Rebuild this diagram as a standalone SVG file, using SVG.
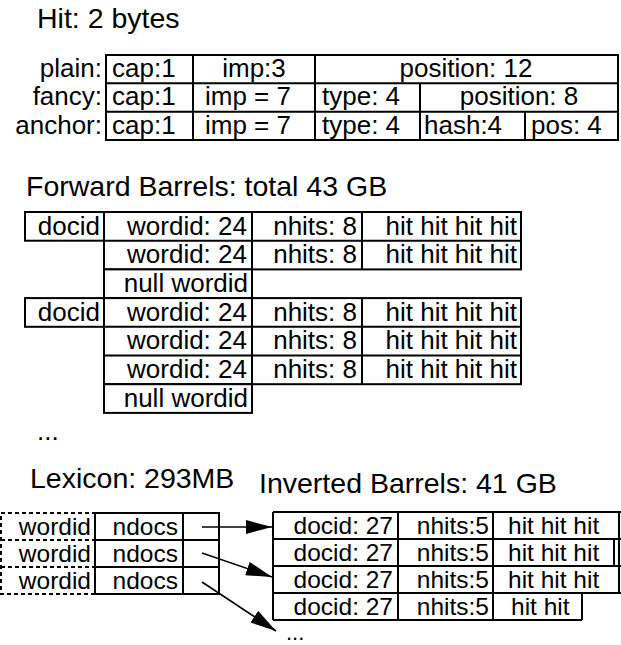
<svg xmlns="http://www.w3.org/2000/svg" width="621" height="645" viewBox="0 0 621 645">
<style>
text{font-family:"Liberation Sans",Arial,Helvetica,sans-serif;font-size:26px;fill:#000}
.title{font-size:28.5px}
.sm{font-size:24.5px}
.dots{font-size:22px}
.r{text-anchor:end}
.m{text-anchor:middle}
.box{fill:#fff;stroke:#000;stroke-width:2}
.ln{stroke:#000;stroke-width:2;fill:none}
.dash{fill:#fff;stroke:#000;stroke-width:2;stroke-dasharray:4 3}
.conn{stroke:#000;stroke-width:1.6;fill:none}
</style>
<defs>
<marker id="ah" markerUnits="userSpaceOnUse" markerWidth="27" markerHeight="14" refX="26" refY="7" orient="auto">
<path d="M0,0 L26,7 L0,14 z" fill="#000"/>
</marker>
</defs>
<rect width="621" height="645" fill="#fff"/>

<g id="hit-title"><text class="title" x="37" y="28">Hit: 2 bytes</text></g>

<g id="hit-table">
<text class="r" x="102" y="77">plain:</text>
<text class="r" x="102" y="105">fancy:</text>
<text class="r" x="102" y="134">anchor:</text>
<rect class="box" x="106" y="55" width="512" height="85"/>
<path class="ln" d="M106,83.3H618M106,111.7H618M193,55V140M315,55V140M420,83.3V140M525,111.7V140"/>
<text x="112" y="77">cap:1</text>
<text class="m" x="254" y="77">imp:3</text>
<text class="m" x="466" y="77">position: 12</text>
<text x="112" y="105">cap:1</text>
<text x="205" y="105">imp = 7</text>
<text x="322" y="105">type: 4</text>
<text class="m" x="519" y="105">position: 8</text>
<text x="112" y="134">cap:1</text>
<text x="205" y="134">imp = 7</text>
<text x="322" y="134">type: 4</text>
<text x="424" y="134">hash:4</text>
<text x="531" y="134">pos: 4</text>
</g>

<g id="fb-title"><text class="title" x="26" y="196">Forward Barrels: total 43 GB</text></g>

<g id="fb-doc1">
<rect class="box" x="25" y="212" width="79" height="28.7"/>
<text class="r" x="100" y="234.5">docid</text>
<rect class="box" x="104" y="212" width="417" height="57.4"/>
<path class="ln" d="M104,240.7H521M252,212V269.4M362,212V269.4"/>
<text class="r" x="247" y="234.5">wordid: 24</text>
<text class="r" x="357" y="234.5">nhits: 8</text>
<text class="r" x="517" y="234.5">hit hit hit hit</text>
<text class="r" x="247" y="263.2">wordid: 24</text>
<text class="r" x="357" y="263.2">nhits: 8</text>
<text class="r" x="517" y="263.2">hit hit hit hit</text>
<rect class="box" x="104" y="269.4" width="148" height="28.7"/>
<text class="r" x="248" y="291.9">null wordid</text>
</g>

<g id="fb-doc2">
<rect class="box" x="25" y="298.1" width="79" height="28.7"/>
<text class="r" x="100" y="320.6">docid</text>
<rect class="box" x="104" y="298.1" width="417" height="86.1"/>
<path class="ln" d="M104,326.8H521M104,355.5H521M252,298.1V384.2M362,298.1V384.2"/>
<text class="r" x="247" y="320.6">wordid: 24</text>
<text class="r" x="357" y="320.6">nhits: 8</text>
<text class="r" x="517" y="320.6">hit hit hit hit</text>
<text class="r" x="247" y="349.3">wordid: 24</text>
<text class="r" x="357" y="349.3">nhits: 8</text>
<text class="r" x="517" y="349.3">hit hit hit hit</text>
<text class="r" x="247" y="378">wordid: 24</text>
<text class="r" x="357" y="378">nhits: 8</text>
<text class="r" x="517" y="378">hit hit hit hit</text>
<rect class="box" x="104" y="384.2" width="148" height="28.7"/>
<text class="r" x="248" y="406.7">null wordid</text>
</g>

<g id="fb-more"><text x="37" y="440">...</text></g>

<g id="lex-title"><text class="title" x="30" y="488">Lexicon: 293MB</text></g>
<g id="inv-title"><text class="title" x="259" y="493">Inverted Barrels: 41 GB</text></g>

<g id="lexicon">
<rect class="dash" x="1" y="513" width="94" height="81"/>
<path class="dash" d="M1,540H95M1,567H95"/>
<rect class="box" x="95" y="513" width="124" height="81"/>
<path class="ln" d="M95,540H219M95,567H219M183,513V594"/>
<text class="r sm" x="91" y="535">wordid</text>
<text class="r sm" x="178" y="535">ndocs</text>
<text class="r sm" x="91" y="562">wordid</text>
<text class="r sm" x="178" y="562">ndocs</text>
<text class="r sm" x="91" y="589">wordid</text>
<text class="r sm" x="178" y="589">ndocs</text>
</g>

<g id="inverted">
<path class="ln" d="M273,512H630M273,539H630M273,566H630M273,593H630M273,620H582M273,512V620M398,512V620M493,512V620M582,593V620M619,512V593M614,539V566"/>
<text class="r sm" x="393" y="533.5">docid: 27</text>
<text class="r sm" x="489" y="533.5">nhits:5</text>
<text class="sm" x="508" y="533.5">hit hit hit</text>
<text class="r sm" x="393" y="560.5">docid: 27</text>
<text class="r sm" x="489" y="560.5">nhits:5</text>
<text class="sm" x="508" y="560.5">hit hit hit</text>
<text class="r sm" x="393" y="587.5">docid: 27</text>
<text class="r sm" x="489" y="587.5">nhits:5</text>
<text class="sm" x="508" y="587.5">hit hit hit</text>
<text class="r sm" x="393" y="614.5">docid: 27</text>
<text class="r sm" x="489" y="614.5">nhits:5</text>
<text class="sm" x="511" y="614.5">hit hit</text>
</g>

<g id="inv-more"><text class="dots" x="286" y="640">...</text></g>

<g id="connectors">
<path class="conn" d="M202,527H272" marker-end="url(#ah)"/>
<path class="conn" d="M202,553L272,577" marker-end="url(#ah)"/>
<path class="conn" d="M202,582L276,631" marker-end="url(#ah)"/>
</g>
</svg>
